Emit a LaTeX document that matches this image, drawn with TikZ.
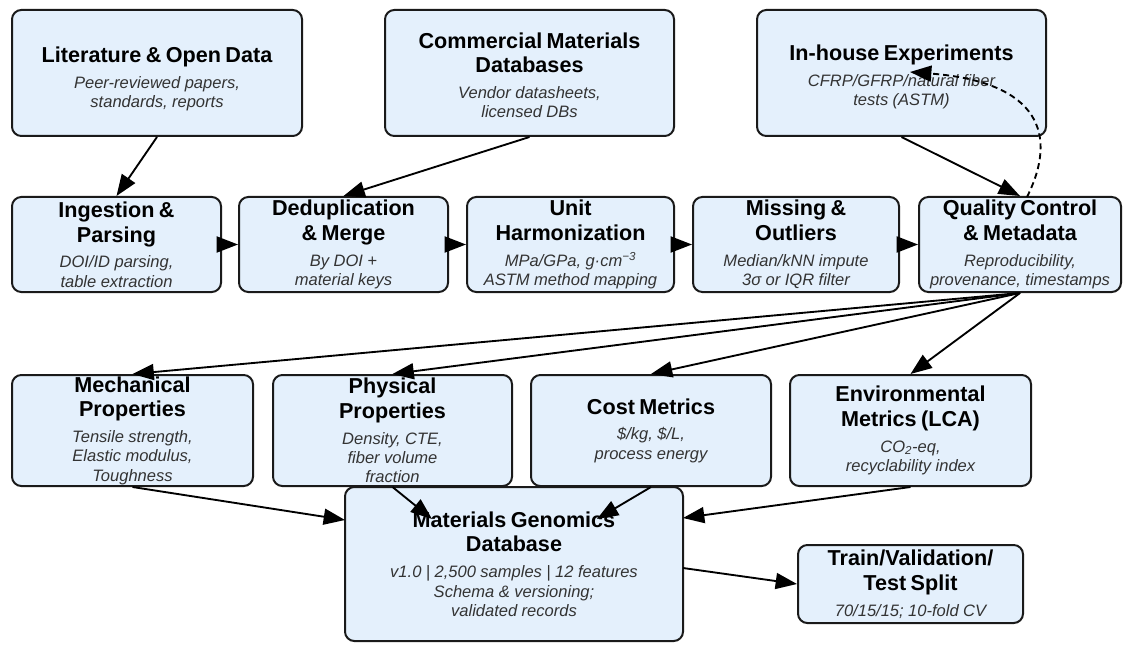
\documentclass[tikz,border=0pt]{standalone}
\usepackage{fontspec}
\setmainfont{Liberation Sans}
\usetikzlibrary{arrows.meta,calc}
\definecolor{boxfill}{HTML}{E4F0FC}
\definecolor{boxline}{HTML}{1A1A1A}
\definecolor{subgray}{HTML}{333333}
\newcommand\ttl{\fontsize{16.2}{18.5}\selectfont\bfseries}
\newcommand\sbt{\fontsize{12.4}{14.4}\selectfont\itshape\color{subgray}}
\newcommand\bxt[3][0pt]{{\ttl\rule{0pt}{#1}#2\par}\vspace{5pt}{\sbt #3\par}}
\tikzset{
  box/.style={draw=boxline, line width=1.5pt, fill=boxfill, rounded corners=7pt,
              inner sep=0pt, align=center},
  sz/.code 2 args={\pgfmathsetmacro\bw{#1*0.75}\pgfmathsetmacro\bh{#2*0.75}%
     \pgfmathsetmacro\tw{#1*0.75-4}%
     \edef\tmp{\noexpand\tikzset{minimum width=\bw pt, minimum height=\bh pt, text width=\tw pt}}\tmp},
  arr/.style={draw=black, line width=1.4pt, -{Triangle[length=16pt,width=12pt]}},
  dasharr/.style={arr, dash pattern=on 4.5pt off 3pt},
}
\begin{document}
\begin{tikzpicture}[x=0.75pt, y=-0.75pt]
\fill[white] (0,0) rectangle (1123,645);
\useasboundingbox (0,0) rectangle (1123,645);
% row 1
\node[box, sz={290}{126}] (lit) at (157,73) {\bxt[21pt]{Literature \& Open Data}{Peer-reviewed papers,\\standards, reports}};
\node[box, sz={289}{126}] (com) at (529.5,73) {\bxt[15pt]{Commercial Materials\\Databases}{Vendor datasheets,\\licensed DBs}};
\node[box, sz={289}{126}] (inh) at (901.5,73) {\bxt[17.5pt]{In-house Experiments}{CFRP/GFRP/natural fiber\\tests (ASTM)}};
% row 2
\node[box, sz={209}{95}] (ing) at (116.5,244.5) {\bxt{Ingestion \&\\Parsing}{DOI/ID parsing,\\table extraction}};
\node[box, sz={209}{95}] (ded) at (343.5,244.5) {\bxt{Deduplication\\\& Merge}{By DOI +\\material keys}};
\node[box, sz={207}{95}] (uni) at (570.5,244.5) {\bxt{Unit\\Harmonization}{MPa/GPa, g·cm\textsuperscript{−3}\\ASTM method mapping}};
\node[box, sz={206}{95}] (mis) at (796,244.5) {\bxt{Missing \&\\Outliers}{Median/kNN impute\\3σ or IQR filter}};
\node[box, sz={202}{95}] (qc) at (1020,244.5) {\bxt{Quality Control\\\& Metadata}{Reproducibility,\\provenance, timestamps}};
% row 3
\node[box, sz={241}{111}] (mec) at (132.5,430.5) {\bxt{Mechanical\\Properties}{Tensile strength,\\Elastic modulus,\\Toughness}};
\node[box, sz={239}{111}] (phy) at (392.5,430.5) {\bxt{Physical\\Properties}{Density, CTE,\\fiber volume\\fraction}};
\node[box, sz={240}{111}] (cos) at (651,430.5) {\bxt{Cost Metrics}{\$/kg, \$/L,\\process energy}};
\node[box, sz={241}{111}] (env) at (910.5,430.5) {\bxt{Environmental\\Metrics (LCA)}{CO\textsubscript{2}-eq,\\recyclability index}};
% row 4
\node[box, sz={338}{154}] (mgd) at (514,564) {\bxt{Materials Genomics\\Database}{v1.0 | 2,500 samples | 12 features\\Schema \& versioning;\\validated records}};
\node[box, sz={225}{78}] (trn) at (910.5,584) {\bxt{Train/Validation/\\Test Split}{70/15/15; 10-fold CV}};
% connector end points
\coordinate (mA) at (345,520);
\coordinate (mB) at (432,519);
\coordinate (mC) at (597,519);
\coordinate (mD) at (683,518);
\coordinate (mE) at (683,568);
\coordinate (dS) at (1027,197);
\coordinate (dE) at (910,72);
% connectors
\draw[arr] (lit.south) -- (ing.north);
\draw[arr] (com.south) -- (ded.north);
\draw[arr] (inh.south) -- (qc.north);
\draw[arr] (ing.east) -- (ded.west);
\draw[arr] (ded.east) -- (uni.west);
\draw[arr] (uni.east) -- (mis.west);
\draw[arr] (mis.east) -- (qc.west);
\draw[arr] (qc.south) -- (mec.north);
\draw[arr] (qc.south) -- (phy.north);
\draw[arr] (qc.south) -- (cos.north);
\draw[arr] (qc.south) -- (env.north);
\draw[arr] (mec.south) -- (mA);
\draw[arr] (phy.south) -- (mB);
\draw[arr] (cos.south) -- (mC);
\draw[arr] (env.south) -- (mD);
\draw[arr] (mE) -- (trn.west);
\draw[dasharr] (dS) .. controls (1058,135) and (1040,82) .. (dE);
\end{tikzpicture}
\end{document}
